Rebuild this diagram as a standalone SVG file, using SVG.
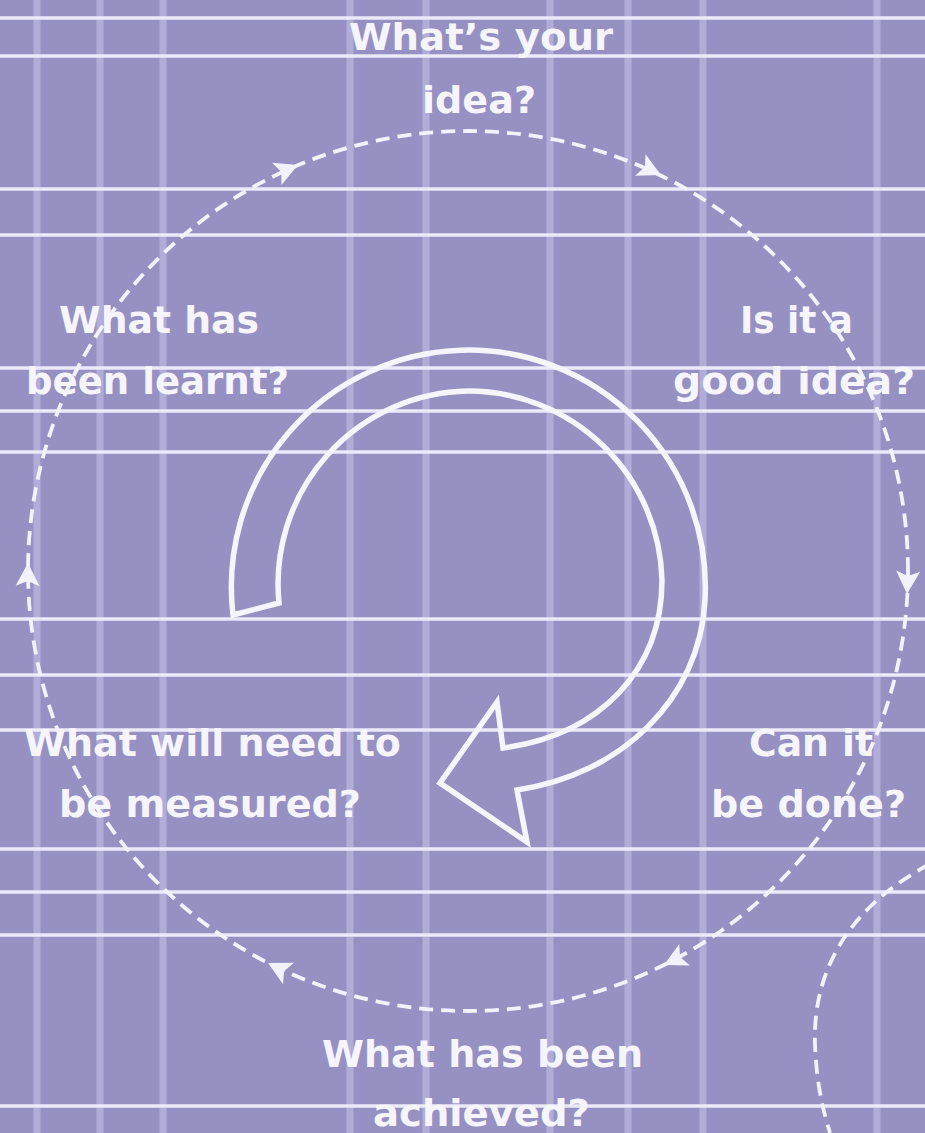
<svg xmlns="http://www.w3.org/2000/svg" width="925" height="1133" viewBox="0 0 925 1133">
<defs>
<style>
.vl{stroke:#b2add8;stroke-width:7}
.hl{stroke:#eceaf8;stroke-width:3.5}
.lbl{font-family:"DejaVu Sans","Liberation Sans",sans-serif;font-weight:bold;font-size:38px;fill:#f6f5fb}
.dash{fill:none;stroke:#f3f2fa;stroke-width:3.8;stroke-dasharray:14 8}
.ah{fill:#f3f2fa}
.big{fill:none;stroke:#f6f5fb;stroke-width:5.5;stroke-linejoin:miter}
</style>
<polygon id="head" points="0,0 -23,-12 -18,0 -23,12"/>
</defs>
<rect x="0" y="0" width="925" height="1133" fill="#9690c3"/>
<g id="grid">
<line class="vl" x1="37" y1="0" x2="37" y2="1133"/>
<line class="vl" x1="100" y1="0" x2="100" y2="1133"/>
<line class="vl" x1="163" y1="0" x2="163" y2="1133"/>
<line class="vl" x1="350" y1="0" x2="350" y2="1133"/>
<line class="vl" x1="426" y1="0" x2="426" y2="1133"/>
<line class="vl" x1="550" y1="0" x2="550" y2="1133"/>
<line class="vl" x1="628" y1="0" x2="628" y2="1133"/>
<line class="vl" x1="703" y1="0" x2="703" y2="1133"/>
<line class="vl" x1="877" y1="0" x2="877" y2="1133"/>
<line class="hl" x1="0" y1="18" x2="925" y2="18"/>
<line class="hl" x1="0" y1="56" x2="925" y2="56"/>
<line class="hl" x1="0" y1="189" x2="925" y2="189"/>
<line class="hl" x1="0" y1="235" x2="925" y2="235"/>
<line class="hl" x1="0" y1="368" x2="925" y2="368"/>
<line class="hl" x1="0" y1="411" x2="925" y2="411"/>
<line class="hl" x1="0" y1="452" x2="925" y2="452"/>
<line class="hl" x1="0" y1="619" x2="925" y2="619"/>
<line class="hl" x1="0" y1="675" x2="925" y2="675"/>
<line class="hl" x1="0" y1="730" x2="925" y2="730"/>
<line class="hl" x1="0" y1="849" x2="925" y2="849"/>
<line class="hl" x1="0" y1="892" x2="925" y2="892"/>
<line class="hl" x1="0" y1="935" x2="925" y2="935"/>
<line class="hl" x1="0" y1="1106" x2="925" y2="1106"/>
</g>
<g id="connectors">
<circle class="dash" cx="468" cy="571" r="440"/>
<path class="dash" d="M 930 864 C 858 902 812 962 815 1045 C 817 1090 824 1112 830 1133"/>
<use href="#head" class="ah" transform="translate(298,165) rotate(-22.7)"/>
<use href="#head" class="ah" transform="translate(661,175) rotate(26)"/>
<use href="#head" class="ah" transform="translate(907,594) rotate(93)"/>
<use href="#head" class="ah" transform="translate(664,965) rotate(153.5)"/>
<use href="#head" class="ah" transform="translate(268,963) rotate(207)"/>
<use href="#head" class="ah" transform="translate(28,563) rotate(271)"/>
<path id="cycle-arrow" class="big" d="M 279 603 L 233 615 A 237 237 0 1 1 705 600 C 700 700 620 775 517 790 L 527 842 L 440 783 L 497 702 L 503 748 C 600 735 662 670 662 580 A 194 194 0 0 0 468 391 A 193 193 0 0 0 279 603 Z"/>
</g>
<g id="node-idea"><text class="lbl" x="349" y="50" textLength="264" lengthAdjust="spacingAndGlyphs">What’s your</text><text class="lbl" x="422" y="113" textLength="114" lengthAdjust="spacingAndGlyphs">idea?</text></g>
<g id="node-good"><text class="lbl" x="740" y="333" textLength="113" lengthAdjust="spacingAndGlyphs">Is it a</text><text class="lbl" x="673" y="394" textLength="242" lengthAdjust="spacingAndGlyphs">good idea?</text></g>
<g id="node-done"><text class="lbl" x="749" y="756" textLength="124" lengthAdjust="spacingAndGlyphs">Can it</text><text class="lbl" x="711" y="817" textLength="195" lengthAdjust="spacingAndGlyphs">be done?</text></g>
<g id="node-achieved"><text class="lbl" x="322" y="1067" textLength="321" lengthAdjust="spacingAndGlyphs">What has been</text><text class="lbl" x="373" y="1126" textLength="217" lengthAdjust="spacingAndGlyphs">achieved?</text></g>
<g id="node-measured"><text class="lbl" x="24" y="756" textLength="377" lengthAdjust="spacingAndGlyphs">What will need to</text><text class="lbl" x="59" y="817" textLength="302" lengthAdjust="spacingAndGlyphs">be measured?</text></g>
<g id="node-learnt"><text class="lbl" x="59" y="333" textLength="200" lengthAdjust="spacingAndGlyphs">What has</text><text class="lbl" x="26" y="394" textLength="263" lengthAdjust="spacingAndGlyphs">been learnt?</text></g>
</svg>
